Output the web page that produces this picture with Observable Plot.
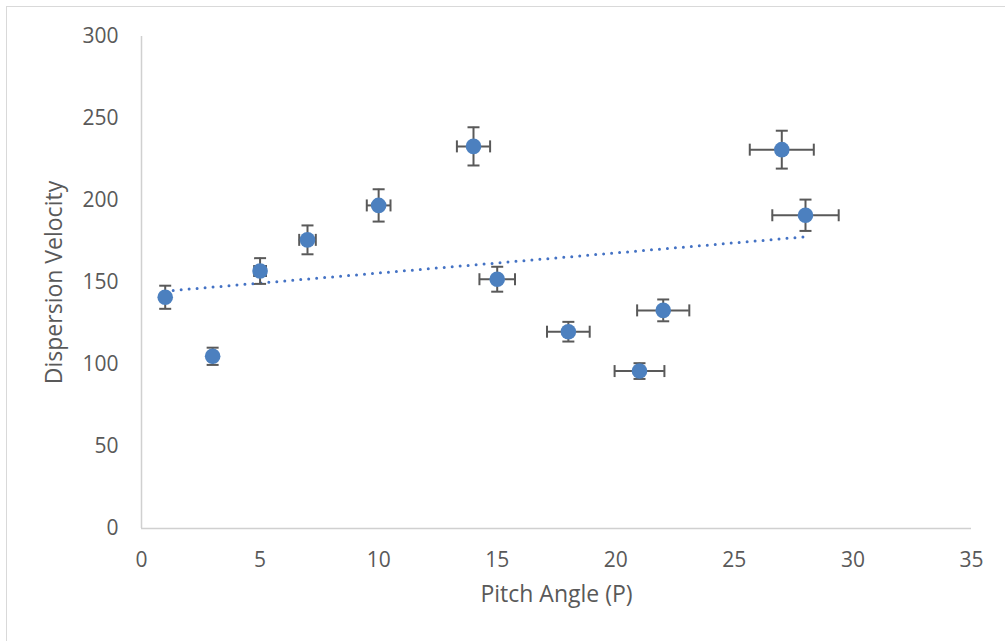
<!DOCTYPE html>
<html><head><meta charset="utf-8">
<script src="https://cdn.jsdelivr.net/npm/d3@7"></script>
<script src="https://cdn.jsdelivr.net/npm/@observablehq/plot@0.6"></script>
<style>
body{margin:0;background:#fff;}
#wrap{position:relative;width:1005px;height:641px;overflow:hidden;}
#wrap svg{position:absolute;left:0;top:0;}
#border{position:absolute;left:6px;top:6px;width:1010px;height:650px;border:1.5px solid #d9d9d9;box-sizing:border-box;pointer-events:none;}
</style></head><body><div id="wrap"><div id="border"></div></div>
<script>
const pitchAngle = [1, 3, 5, 7, 10, 14, 15, 18, 21, 22, 27, 28];
const dispersionVelocity = [141, 105, 157, 176, 197, 233, 152, 120, 96, 133, 231, 191];
const xError = [0.05, 0.15, 0.25, 0.35, 0.5, 0.7, 0.75, 0.9, 1.05, 1.1, 1.35, 1.4];
const yError = [7.05, 5.25, 7.85, 8.8, 9.85, 11.65, 7.6, 6, 4.8, 6.65, 11.55, 9.55];
const xTicks = [0, 5, 10, 15, 20, 25, 30, 35];
const yTicks = [0, 50, 100, 150, 200, 250, 300];
const xTitle = "Pitch Angle (P)";
const yTitle = "Dispersion Velocity";

const data = pitchAngle.map((x, i) => ({x, y: dispersionVelocity[i], ex: xError[i], ey: yError[i]}));

const blue = "#4c80bf";
const trendBlue = "#4472c4";
const barColor = "#595959";
const hCap = {draw(ctx) { ctx.moveTo(-6, 0); ctx.lineTo(6, 0); }};
const vCap = {draw(ctx) { ctx.moveTo(0, -6); ctx.lineTo(0, 6); }};

const chart = Plot.plot({
  width: 1005,
  height: 641,
  marginLeft: 141,
  marginRight: 34,
  marginTop: 36,
  marginBottom: 113,
  style: {fontFamily: "'Open Sans', sans-serif", fontSize: "21px", color: "#595959", background: "transparent"},
  x: {domain: [0, 35]},
  y: {domain: [0, 300]},
  marks: [
    Plot.ruleX([0], {stroke: "#d0d0d0", strokeWidth: 1.5}),
    Plot.ruleY([0], {stroke: "#d0d0d0", strokeWidth: 1.5}),
    Plot.axisX({ticks: xTicks, tickSize: 0, tickPadding: 24, fontSize: 21, label: null}),
    Plot.axisY({ticks: yTicks, tickSize: 0, tickPadding: 23, fontSize: 21, label: null}),
    Plot.axisX({ticks: [], tickSize: 0, fontSize: 23, label: xTitle, labelAnchor: "center", labelOffset: 73, labelArrow: "none"}),
    Plot.axisY({ticks: [], tickSize: 0, fontSize: 23, label: yTitle, labelAnchor: "center", labelOffset: 96, labelArrow: "none"}),
    Plot.linearRegressionY(data, {x: "x", y: "y", stroke: trendBlue, strokeWidth: 3, strokeDasharray: "0 8", strokeLinecap: "round", ci: 0}),
    Plot.ruleX(data, {x: "x", y1: d => d.y - d.ey, y2: d => d.y + d.ey, stroke: barColor, strokeWidth: 2}),
    Plot.ruleY(data, {y: "y", x1: d => d.x - d.ex, x2: d => d.x + d.ex, stroke: barColor, strokeWidth: 2}),
    Plot.dot(data, {x: "x", y: d => d.y - d.ey, symbol: hCap, fill: "none", stroke: barColor, strokeWidth: 2}),
    Plot.dot(data, {x: "x", y: d => d.y + d.ey, symbol: hCap, fill: "none", stroke: barColor, strokeWidth: 2}),
    Plot.dot(data, {x: d => d.x - d.ex, y: "y", symbol: vCap, fill: "none", stroke: barColor, strokeWidth: 2}),
    Plot.dot(data, {x: d => d.x + d.ex, y: "y", symbol: vCap, fill: "none", stroke: barColor, strokeWidth: 2}),
    Plot.dot(data, {x: "x", y: "y", r: 7.8, fill: blue, stroke: "none"})
  ]
});
document.getElementById("wrap").appendChild(chart);
</script>
</body></html>
